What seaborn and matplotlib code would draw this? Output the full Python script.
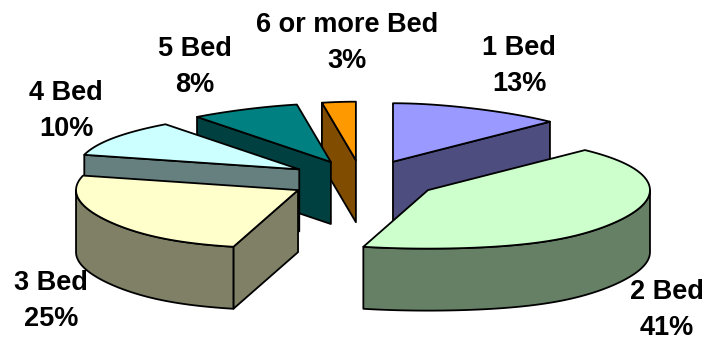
import numpy as np
import matplotlib
matplotlib.use("Agg")
import matplotlib.pyplot as plt
import seaborn as sns

categories = ["1 Bed", "2 Bed", "3 Bed", "4 Bed", "5 Bed", "6 or more Bed"]
values = [13, 41, 25, 10, 8, 3]
top_colors = ["#9999FF", "#CCFFCC", "#FFFFCC", "#CCFFFF", "#008080", "#FF9900"]
side_colors = ["#4D4D80", "#668066", "#808066", "#668080", "#004040", "#804D00"]

# layout of the label centres (pixels), not data
label_xy = [(519, 66), (667, 310), (51, 301), (66, 111), (195, 67), (347, 43)]

sns.set_theme(style="white")
plt.rcParams["font.family"] = ["Liberation Sans", "DejaVu Sans"]

CX, CY = 363.0, 180.0      # pie centre
RX, RY = 222.0, 58.5       # ellipse radii
DEPTH = 62.0
EXPLODE = 0.34
PERSP = 0.20
LW = 1.3


def project(deg, cx, cy, r=1.0):
    th = np.radians(deg)
    x = cx + r * RX * np.sin(th) * (1 - PERSP * np.cos(th) ** 5)
    y = cy - r * RY * np.cos(th)
    return x, y


fig = plt.figure(figsize=(7.08, 3.41), dpi=100, facecolor="white")
ax = fig.add_axes([0, 0, 1, 1])
ax.set_xlim(0, 708)
ax.set_ylim(341, 0)
ax.axis("off")

vals = np.asarray(values, dtype=float)
edges = np.concatenate([[0], np.cumsum(vals) / vals.sum() * 360])

wedges = []
for i in range(len(vals)):
    a0, a1 = edges[i], edges[i + 1]
    mid = np.radians((a0 + a1) / 2)
    cx = CX + EXPLODE * RX * np.sin(mid)
    cy = CY - EXPLODE * RY * np.cos(mid)
    wedges.append((cy, i, a0, a1, cx))

style = dict(edgecolor="black", linewidth=LW, joinstyle="round")
for z, (cy, i, a0, a1, cx) in enumerate(sorted(wedges, key=lambda w: w[0])):
    zb = z * 10
    # cut faces
    if 180 < a0 < 360:
        ox, oy = project(a0, cx, cy)
        ax.fill([cx, ox, ox, cx], [cy, oy, oy + DEPTH, cy + DEPTH],
                facecolor=side_colors[i], zorder=zb + 1, **style)
    if 0 < a1 < 180:
        ox, oy = project(a1, cx, cy)
        ax.fill([cx, ox, ox, cx], [cy, oy, oy + DEPTH, cy + DEPTH],
                facecolor=side_colors[i], zorder=zb + 1, **style)
    # outer rim, front half only
    lo, hi = max(a0, 90), min(a1, 270)
    if lo < hi:
        t = np.linspace(lo, hi, 80)
        xs, ys = project(t, cx, cy)
        ax.fill(np.r_[xs, xs[::-1]], np.r_[ys, ys[::-1] + DEPTH],
                facecolor=side_colors[i], zorder=zb + 2, **style)
    # top face
    t = np.linspace(a0, a1, 120)
    xs, ys = project(t, cx, cy)
    ax.fill(np.r_[cx, xs], np.r_[cy, ys],
            facecolor=top_colors[i], zorder=zb + 3, **style)

for name, v, (x, y) in zip(categories, values, label_xy):
    ax.text(x, y, f"{name}\n{v}%", ha="center", va="center", fontsize=19.5,
            fontweight="bold", color="black", linespacing=1.5, zorder=200)

fig.savefig("out.png", dpi=100, facecolor="white")
